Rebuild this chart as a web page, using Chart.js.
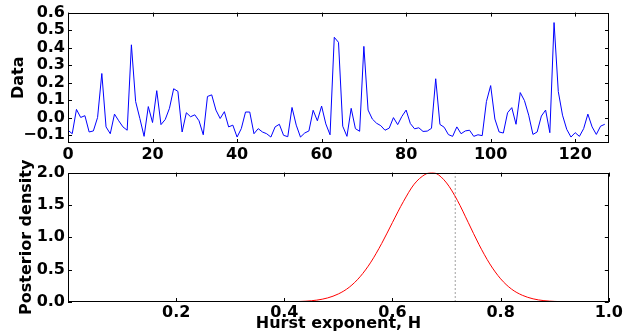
<!DOCTYPE html>
<html>
<head>
<meta charset="utf-8">
<script src="https://cdn.jsdelivr.net/npm/chart.js@4"></script>
<style>
  body { margin: 0; background: #fff; }
  .box { position: absolute; left: 0; width: 624px; }
</style>
</head>
<body>
<div class="box" style="top:0;height:160px"><canvas id="dataChart" width="624" height="160"></canvas></div>
<div class="box" style="top:160px;height:173px"><canvas id="postChart" width="624" height="173"></canvas></div>
<script>
// top panel: the observed series, index 0..127
const dataValues = [
  -0.072, -0.092, 0.047, 0.001, 0.011, -0.082, -0.076, 0.001, 0.252, -0.053,
  -0.092, 0.020, -0.018, -0.053, -0.072, 0.416, 0.092, -0.005, -0.107, 0.063,
  -0.028, 0.154, -0.040, -0.011, 0.053, 0.165, 0.150, -0.082, 0.028, 0.005,
  0.016, -0.018, -0.098, 0.121, 0.130, 0.043, -0.005, 0.034, -0.053, -0.043,
  -0.111, -0.063, 0.032, 0.032, -0.092, -0.063, -0.082, -0.092, -0.111, -0.053,
  -0.038, -0.101, -0.109, 0.058, -0.043, -0.111, -0.088, -0.076, 0.042, -0.018,
  0.066, -0.036, -0.098, 0.459, 0.430, -0.049, -0.107, 0.053, -0.063, -0.078,
  0.407, 0.043, -0.008, -0.032, -0.046, -0.072, -0.060, 0.000, -0.040, 0.007,
  0.043, -0.034, -0.064, -0.058, -0.079, -0.077, -0.061, 0.222, -0.039, -0.055,
  -0.097, -0.107, -0.053, -0.092, -0.076, -0.072, -0.107, -0.098, -0.103, 0.092,
  0.183, -0.008, -0.082, -0.088, 0.028, 0.057, -0.038, 0.143, 0.097, 0.014,
  -0.096, -0.082, 0.009, 0.043, -0.086, 0.543, 0.149, 0.014, -0.067, -0.111,
  -0.086, -0.107, -0.063, 0.020, -0.053, -0.096, -0.049, -0.038
];
const dataXTicks = [0, 20, 40, 60, 80, 100, 120];
const dataYTicks = [-0.1, 0.0, 0.1, 0.2, 0.3, 0.4, 0.5, 0.6];

// bottom panel: posterior density of H
const hGrid = [0.42, 0.44, 0.46, 0.48, 0.50, 0.52, 0.54, 0.56, 0.58, 0.60, 0.62, 0.64, 0.66, 0.672,
  0.68, 0.70, 0.72, 0.74, 0.76, 0.78, 0.80, 0.82, 0.84, 0.86, 0.88, 0.90, 0.92, 0.94, 0.96];
const density = [0.005, 0.013, 0.029, 0.063, 0.125, 0.228, 0.39, 0.616, 0.904, 1.23, 1.55, 1.82, 1.97, 2.0,
  1.99, 1.84, 1.57, 1.23, 0.887, 0.588, 0.358, 0.200, 0.104, 0.049, 0.021, 0.009, 0.003, 0.001, 0.0];
const hMarker = 0.716;
const postXTicks = [0.2, 0.4, 0.6, 0.8, 1.0];
const postYTicks = [0.0, 0.5, 1.0, 1.5, 2.0];

Chart.defaults.color = '#000';
Chart.defaults.font.family = "'DejaVu Sans', sans-serif";

const tickFont = { family: "'DejaVu Sans'", size: 16, weight: 'bold' };

// black box round the plot area with short inward ticks on every side
const framePlugin = {
  id: 'frame',
  afterDatasetsDraw(chart) {
    const { ctx, chartArea: a, scales: { x, y } } = chart;
    ctx.save();
    ctx.strokeStyle = '#000';
    ctx.lineWidth = 1;
    ctx.strokeRect(Math.round(a.left) + 0.5, Math.round(a.top) + 0.5,
      Math.round(a.right - a.left) - 1, Math.round(a.bottom - a.top) - 1);
    ctx.beginPath();
    x.ticks.forEach(t => {
      const px = Math.round(x.getPixelForValue(t.value)) + 0.5;
      ctx.moveTo(px, a.bottom); ctx.lineTo(px, a.bottom - 4);
      ctx.moveTo(px, a.top); ctx.lineTo(px, a.top + 4);
    });
    y.ticks.forEach(t => {
      const py = Math.round(y.getPixelForValue(t.value)) + 0.5;
      ctx.moveTo(a.left, py); ctx.lineTo(a.left + 4, py);
      ctx.moveTo(a.right, py); ctx.lineTo(a.right - 4, py);
    });
    ctx.stroke();
    ctx.restore();
  }
};

function fixedTicks(values) {
  return axis => { axis.ticks = values.map(v => ({ value: v })); };
}

new Chart(document.getElementById('dataChart'), {
  type: 'line',
  data: {
    datasets: [{
      data: dataValues.map((v, i) => ({ x: i, y: v })),
      borderColor: '#0000ff',
      borderWidth: 1,
      pointRadius: 0,
      tension: 0
    }]
  },
  options: {
    responsive: false,
    animation: false,
    layout: { padding: { top: 12, right: 15, left: 0, bottom: 0 } },
    plugins: { legend: { display: false }, tooltip: { enabled: false } },
    scales: {
      x: {
        type: 'linear', min: 0, max: 128,
        afterBuildTicks: fixedTicks(dataXTicks),
        afterFit: s => { s.height = 17; },
        grid: { display: false, drawTicks: false },
        border: { display: false },
        ticks: { font: tickFont, padding: 2, maxRotation: 0, autoSkip: false, callback: v => String(v) }
      },
      y: {
        min: -0.145, max: 0.6,
        afterBuildTicks: fixedTicks(dataYTicks),
        afterFit: s => { s.width = 68; },
        grid: { display: false, drawTicks: false },
        border: { display: false },
        ticks: { font: tickFont, padding: 3, autoSkip: false, callback: v => (v < 0 ? '\u2212' : '') + Math.abs(v).toFixed(1) },
        title: { display: true, text: 'Data', font: tickFont, padding: { top: 9, bottom: 0 } }
      }
    }
  },
  plugins: [framePlugin]
});

new Chart(document.getElementById('postChart'), {
  type: 'line',
  data: {
    datasets: [{
      data: hGrid.map((h, i) => ({ x: h, y: density[i] })),
      borderColor: '#ff0000',
      borderWidth: 1,
      pointRadius: 0,
      cubicInterpolationMode: 'monotone'
    }, {
      data: [{ x: hMarker, y: 0 }, { x: hMarker, y: 2 }],
      borderColor: '#a0a0a0',
      borderWidth: 1,
      borderDash: [2, 2],
      pointRadius: 0
    }]
  },
  options: {
    responsive: false,
    animation: false,
    layout: { padding: { top: 11, right: 15, left: 0, bottom: 0 } },
    plugins: { legend: { display: false }, tooltip: { enabled: false } },
    scales: {
      x: {
        type: 'linear', min: 0, max: 1,
        afterBuildTicks: fixedTicks(postXTicks),
        afterFit: s => { s.height = 31; },
        grid: { display: false, drawTicks: false },
        border: { display: false },
        ticks: { font: tickFont, padding: 1, maxRotation: 0, autoSkip: false, callback: v => v.toFixed(1) },
        title: { display: true, text: 'Hurst exponent, H', font: tickFont, padding: { top: 0, bottom: 0 } }
      },
      y: {
        min: 0, max: 2,
        afterBuildTicks: fixedTicks(postYTicks),
        afterFit: s => { s.width = 68; },
        grid: { display: false, drawTicks: false },
        border: { display: false },
        ticks: { font: tickFont, padding: 3, autoSkip: false, callback: v => v.toFixed(1) },
        title: { display: true, text: 'Posterior density', font: tickFont, padding: { top: 17, bottom: 0 } }
      }
    }
  },
  plugins: [framePlugin]
});
</script>
</body>
</html>
